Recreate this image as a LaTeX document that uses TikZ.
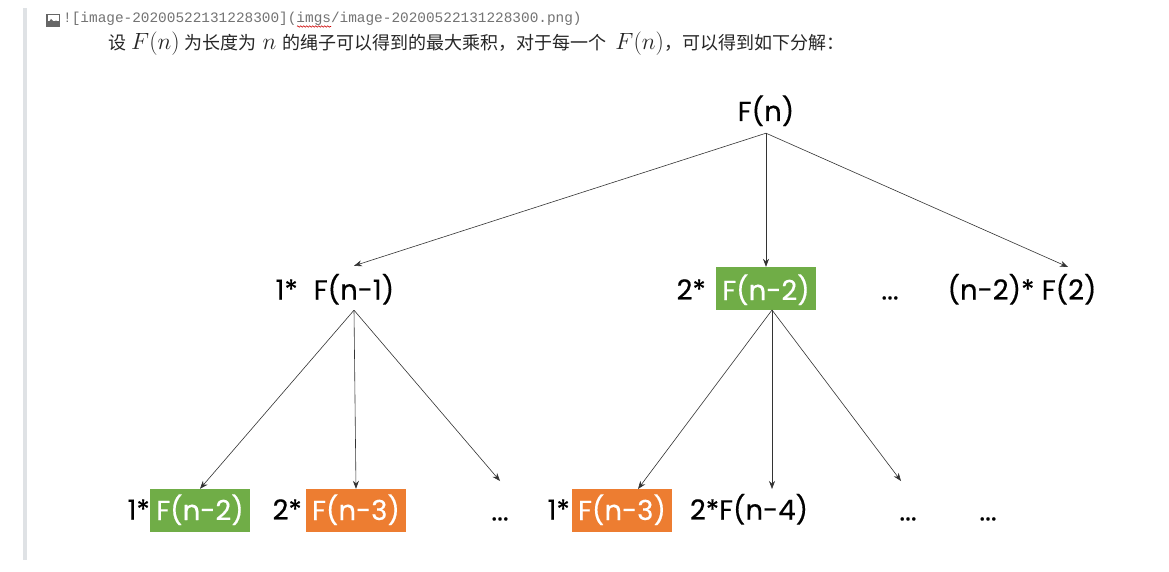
\RequirePackage{fix-cm}
\documentclass[tikz,border=0pt]{standalone}
\usepackage{fontspec}
\setmainfont{Poppins}[FakeBold=0.35]
\newfontfamily\cjk{Noto Sans CJK SC}
\newfontfamily\hdr{Liberation Mono}
\usetikzlibrary{arrows.meta,decorations.pathmorphing}
\definecolor{gbox}{HTML}{70AD47}
\definecolor{obox}{HTML}{ED7D31}
\definecolor{bar}{HTML}{DFE2E5}
\newcommand{\mth}[1]{{\fontsize{23.5}{25}\selectfont\(#1\)}}
\tikzset{
 x=1pt,y=-1pt,
 lab/.style={inner sep=0pt,font=\fontsize{27.5}{30}\selectfont,text=black,minimum height=44pt,text height=25pt,text depth=6pt},
 rowtwo/.style={text height=29pt},
 rowone/.style={text height=24pt},
 gboxn/.style={lab,fill=gbox,text=white,minimum width=100pt,minimum height=43pt},
 oboxn/.style={lab,fill=obox,text=white,minimum width=100pt,minimum height=43pt},
 conn/.style={draw=black!80,line width=0.6pt,-{Stealth[length=8pt,width=6pt]}},
 hdrtxt/.style={inner sep=0pt,anchor=base west,font=\hdr\fontsize{14.4}{16}\selectfont,text=black!55},
 body/.style={inner sep=0pt,anchor=base west,font=\cjk\fontsize{18}{20}\selectfont,text=black!85},
}
\begin{document}
\begin{tikzpicture}
\useasboundingbox (0,0) rectangle (1169,572);
\fill[white] (0,0) rectangle (1169,572);
\fill[bar] (23,8) rectangle (27,560);
% image icon
\fill[black!60] (46,14) rectangle (60,27);
\fill[white] (47.5,15.5) rectangle (58.5,21);
\fill[black!60] (47.5,24) -- (51,19) -- (54,22) -- (56,20.5) -- (58.5,23) -- (58.5,25) -- cycle;
\node[hdrtxt] (h1) at (63,23) {![image-20200522131228300](imgs/image-20200522131228300.png)};
\draw[red!80!black,line width=0.6pt,decorate,decoration={zigzag,segment length=3pt,amplitude=0.8pt}] (297,26.5) -- (331,26.5);
\node[body] (b1) at (108,50) {设\hspace{5pt}\mth{F(n)}\hspace{5pt}为长度为\hspace{6pt}\mth{n}\hspace{6pt}的绳子可以得到的最大乘积，对于每一个\hspace{9pt}\mth{F(n)}\hspace{1pt}，可以得到如下分解：};

\node[lab,rowone,minimum height=42pt] (fn) at (766,112) {F(n)};
\node[lab,rowtwo,anchor=east] (c1) at (298,288) {1*};
\node[lab,rowtwo,minimum width=80pt] (f1) at (354,288) {F(n-1)};
\node[lab,rowtwo,anchor=east] (c2) at (706,288) {2*};
\node[gboxn,rowtwo] (f2) at (766,288.5) {F(n-2)};
\node[lab,rowtwo] (d1) at (890,288) {...};
\node[lab,rowtwo] (f3) at (1022,288) {(n-2)* F(2)};
\coordinate (t3) at (1068,267);

\node[lab,anchor=east] (c3) at (150,510) {1*};
\node[gboxn] (g1) at (200,510.5) {F(n-2)};
\node[lab,anchor=east] (c4) at (302,510) {2*};
\node[oboxn] (g2) at (356,510.5) {F(n-3)};
\node[lab] (d2) at (500,511) {...};
\coordinate (t4) at (500,481);
\node[lab,anchor=east] (c5) at (570,510) {1*};
\node[oboxn] (g3) at (622,510.5) {F(n-3)};
\node[lab] (g4) at (749,510) {2*F(n-4)};
\coordinate (t5) at (772,489);
\coordinate (t6) at (638,489);
\coordinate (t7) at (901,481);
\node[lab] (d3) at (908,511) {...};
\node[lab] (d4) at (988,511) {...};
\coordinate (s2) at (772,310);

\draw[conn] (fn.south) -- (f1.north);
\draw[conn] (fn.south) -- (f2.north);
\draw[conn] (fn.south) -- (t3);
\draw[conn] (f1.south) -- (g1.north);
\draw[conn] (f1.south) -- (g2.north);
\draw[conn] (f1.south) -- (t4);
\draw[conn] (s2) -- (t6);
\draw[conn] (s2) -- (t5);
\draw[conn] (s2) -- (t7);
\end{tikzpicture}
\end{document}
